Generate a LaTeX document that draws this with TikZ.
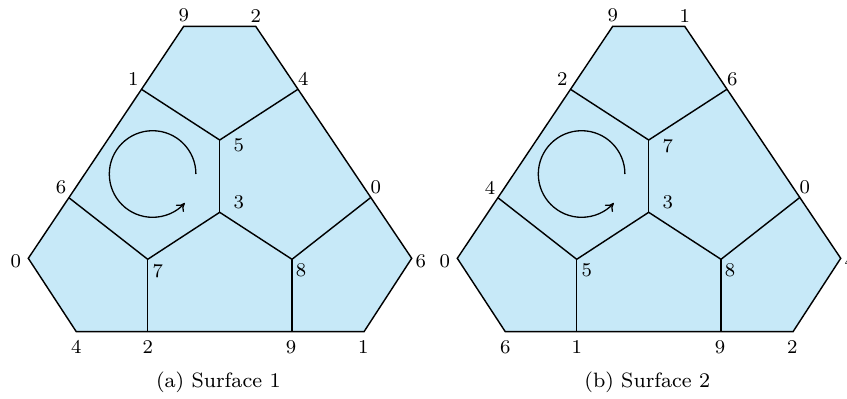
\documentclass[tikz,border=0pt]{standalone}
\usetikzlibrary{arrows.meta}
\definecolor{surf}{RGB}{199,233,248}
\tikzset{
  lbl/.style={inner sep=0pt, font=\fontsize{7.5}{9}\selectfont},
  captxt/.style={inner sep=0pt, font=\fontsize{8}{9.6}\selectfont},
  edge/.style={line width=0.55pt},
}
\newcommand\surfgeom{%
  \coordinate (A) at (183.7,371.7);
  \coordinate (B) at (255.7,371.7);
  \coordinate (R) at (411.7,139.7);
  \coordinate (BR) at (364,66.3);
  \coordinate (BL) at (76.3,66.3);
  \coordinate (L) at (28.3,139.7);
  \coordinate (u1) at (141.5,308.7);
  \coordinate (u4) at (297.9,308.7);
  \coordinate (m6) at (68.9,200.3);
  \coordinate (m0) at (370.5,200.3);
  \coordinate (c5) at (219.7,258);
  \coordinate (c3) at (219.7,185.7);
  \coordinate (c7) at (147.7,138.7);
  \coordinate (c8) at (292,138.7);
  \coordinate (d2) at (147.7,66.3);
  \coordinate (d9) at (292,66.3);
  \coordinate (ctr) at (152.6,224);
  \filldraw[edge, fill=surf] (A) -- (B) -- (R) -- (BR) -- (BL) -- (L) -- cycle;
  \draw[edge] (u1) -- (c5) -- (u4);
  \draw[edge] (c5) -- (c3);
  \draw[edge] (m6) -- (c7) -- (c3) -- (c8) -- (m0);
  \draw[edge] (c7) -- (d2);
  \draw[edge] (c8) -- (d9);
  \draw[line width=0.5pt, -{To[length=3pt,width=4pt]}] (ctr) ++(0:43.3) arc[start angle=0, end angle=318, radius=43.3];
}
\begin{document}
\begin{tikzpicture}[x=0.385pt, y=0.385pt]
\useasboundingbox (0,0) rectangle (847,398);
% Surface 1
\begin{scope}[name prefix=a-]
  \surfgeom
  \node[lbl] (t1) at (183.7,382.3) {9};
  \node[lbl] (t2) at (255.7,382.3) {2};
  \node[lbl] (lu) at (133.3,319) {1};
  \node[lbl] (ru) at (303.3,319) {4};
  \node[lbl] (lm) at (61,210.3) {6};
  \node[lbl] (rm) at (375.7,210.3) {0};
  \node[lbl] (lv) at (15.7,137) {0};
  \node[lbl] (rv) at (420.7,137) {6};
  \node[lbl] (b1) at (76.3,50.7) {4};
  \node[lbl] (b2) at (147.7,50.7) {2};
  \node[lbl] (b3) at (291,50.7) {9};
  \node[lbl] (b4) at (363.3,50.7) {1};
  \node[lbl] (i5) at (238.7,252.3) {5};
  \node[lbl] (i3) at (238.7,195.7) {3};
  \node[lbl] (i7) at (157.7,127.3) {7};
  \node[lbl] (i8) at (301,127.3) {8};
  \node[captxt] (caption) at (218.3,15.3) {(a) Surface 1};
\end{scope}
% Surface 2
\begin{scope}[shift={(429,0)}, name prefix=b-]
  \surfgeom
  \node[lbl] (t1) at (183.7,382.3) {9};
  \node[lbl] (t2) at (255.7,382.3) {1};
  \node[lbl] (lu) at (133.3,319) {2};
  \node[lbl] (ru) at (303.3,319) {6};
  \node[lbl] (lm) at (61,210.3) {4};
  \node[lbl] (rm) at (375.7,210.3) {0};
  \node[lbl] (lv) at (15.7,137) {0};
  \node[lbl] (rv) at (420.7,137) {4};
  \node[lbl] (b1) at (76.3,50.7) {6};
  \node[lbl] (b2) at (147.7,50.7) {1};
  \node[lbl] (b3) at (291,50.7) {9};
  \node[lbl] (b4) at (363.3,50.7) {2};
  \node[lbl] (i5) at (238.7,252.3) {7};
  \node[lbl] (i3) at (238.7,195.7) {3};
  \node[lbl] (i7) at (157.7,127.3) {5};
  \node[lbl] (i8) at (301,127.3) {8};
  \node[captxt] (caption) at (218.3,15.3) {(b) Surface 2};
\end{scope}
\end{tikzpicture}
\end{document}
